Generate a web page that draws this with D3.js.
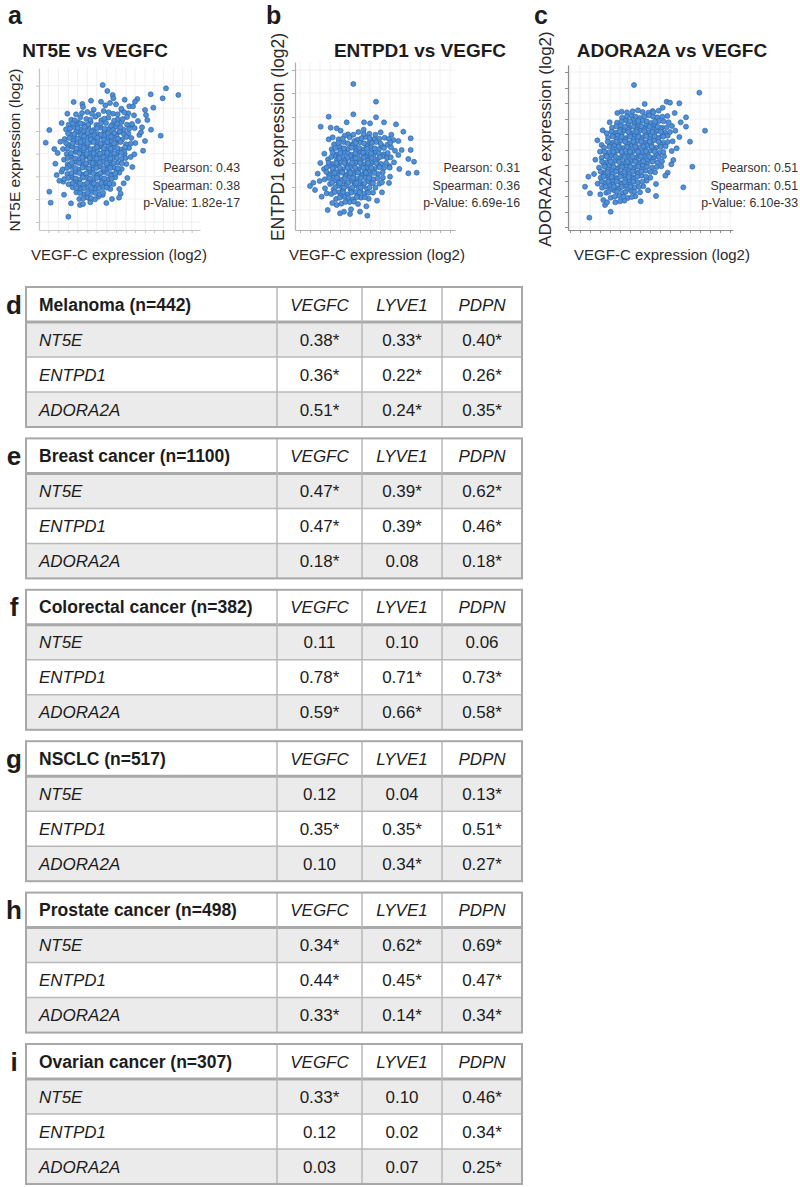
<!DOCTYPE html>
<html>
<head>
<meta charset="utf-8">
<script src="https://cdn.jsdelivr.net/npm/d3@7"></script>
<style>
  body { margin: 0; background: #fff; }
  svg text { font-family: "Liberation Sans", Arial, Helvetica, sans-serif; fill: #1c1c1c; }
</style>
</head>
<body>
<svg id="fig" width="800" height="1187"></svg>
<script>
// ---------- Scatter data (log2 expression) ----------
const panelLetters = ["a", "b", "c"];
const scatterTitles = ["NT5E vs VEGFC", "ENTPD1 vs VEGFC", "ADORA2A vs VEGFC"];
const yLabels = ["NT5E expression (log2)", "ENTPD1 expression (log2)", "ADORA2A expression (log2)"];
const xLabel = "VEGF-C expression (log2)";
const pearson = ["0.43", "0.31", "0.51"];
const spearman = ["0.38", "0.36", "0.51"];
const pValues = ["1.82e-17", "6.69e-16", "6.10e-33"];

// isolated points, [VEGFC, gene]
const outliersA = [[21.8,45],[23.2,43.2],[24.8,42],[25,41],[40.8,44],[44.5,42],[39.8,41],[36.2,42.2],[32.2,40.8],
  [31.5,40],[37,38.2],[34.5,37.5],[34.8,36],[35.2,34.5],[39.2,29.8],[32.8,30],[5.8,31.5],[4.7,27.7],[15.7,39.3],
  [21.3,40],[24,39.6],[25.8,39.2],[5.8,13],[6.2,9.7],[11.5,5.5],[26.8,13.8],[27.2,12.4],[21.8,12],[20.5,11.5],
  [17.8,11],[15,9],[10,16],[8,18],[9.5,19],[30.5,33],[29.5,36.5],[27.5,37.5]];
const outliersB = [[19,45.3],[25.8,40],[19,36.2],[25.8,35.3],[11.6,35.5],[9.2,32.5],[12.2,32.2],[14,32],[17,33.8],
  [22.2,33.8],[24,33.5],[28.2,33.8],[31.8,33.2],[11.6,28.7],[34,31],[36.2,29],[33.5,25.5],[36.2,25.5],[35.5,22.8],
  [37.2,22],[35.5,18.5],[38,18.7],[6,14.7],[7,15.7],[7.5,13.5],[10.5,14],[11,12.5],[11.3,7.5],[15,6.5],[16.2,7],
  [18,6.3],[18.3,7.7],[21,7],[23.2,5.8],[14,9],[30,17.5],[29.8,20.7],[32.5,24]];
const outliersC = [[22.2,45],[41.8,42.7],[32,40],[33,39.7],[35.8,39.5],[18.5,37],[27.8,37.2],[37.8,35.3],[37.8,32.5],
  [43.5,31.3],[39,28],[39.7,20.5],[37,14.3],[28.8,11.7],[8.5,17.5],[7.5,14.5],[9,12.5],[8.8,5.2],[15.2,7],[13,10.5],
  [13.5,9],[12,25],[12.5,27],[14,30.5],[32.3,18.7],[34,22.5],[35,26]];

// main cloud of each panel, [VEGFC, gene]
const cloudA = [
  [15.9,38.4],[19.1,37.6],[22.6,38.9],[27.4,37.9],[29.8,38.6],
  [13.8,36.2],[17.2,36.9],[20.5,36.1],[22.1,37.2],[24.9,36.4],[28.3,36.8],[31.2,35.9],
  [12.4,34.6],[15.1,35.3],[16.9,34.8],[19.6,35.5],[21.4,34.4],[23.5,35.2],[26.3,34.7],[29.1,35.4],
  [11.6,33.1],[14.3,33.8],[16,33.2],[18.2,33.9],[19.9,33],[22.8,33.6],[24.7,33.1],[27.5,33.9],[30.6,33.3],[32.4,34.2],
  [10.8,31.7],[13.1,32.4],[15.2,31.6],[17.5,32.3],[19.1,31.5],[21.2,32.2],[23.6,31.8],[25.8,32.5],[28.1,31.6],[31.4,32.1],
  [12.2,30.2],[14.4,30.9],[16.3,30.1],[18.4,30.8],[20.3,30.3],[22.2,30.7],[24.4,30.1],[26.9,30.9],[29.5,30.4],[33.3,30.8],
  [10.4,28.8],[13.3,29.4],[15.3,28.6],[17.1,29.3],[19.3,28.7],[21.1,29.5],[23.2,28.9],[25.3,29.2],[27.6,28.6],[30.4,29.1],
  [11.4,27.1],[14.2,27.8],[16.2,27.2],[18.2,27.9],[20.1,27.1],[22.3,27.7],[24.1,27.3],[26.1,27.8],[28.8,27.2],[31.6,27.6],
  [9.9,25.8],[12.7,26.4],[15,25.6],[17.1,26.2],[19.2,25.9],[21,26.5],[23.1,25.7],[25.2,26.3],[27.3,25.6],[29.7,26.1],
  [11,24.3],[13.6,24.9],[15.9,24.1],[18,24.7],[20,24.2],[22,24.8],[24.2,24.2],[26.4,24.9],[28.4,24.3],
  [10.2,22.6],[12.4,23.4],[14.7,22.8],[16.8,23.5],[18.9,22.7],[21,23.2],[23,22.6],[25.1,23.3],[27.6,22.9],[30.2,23.4],
  [11.3,21.2],[13.6,21.9],[15.8,21.1],[17.8,21.8],[19.8,21.3],[22,21.9],[24,21.2],[26.3,21.7],[28.9,21.3],
  [9.8,19.7],[12.5,20.4],[14.6,19.6],[16.7,20.3],[18.8,19.8],[20.9,20.5],[23,19.7],[25.2,20.2],[27.5,19.8],
  [11.2,18.3],[13.7,18.9],[15.8,18.1],[17.9,18.8],[20,18.2],[22.1,18.9],[24.4,18.3],[26.8,18.7],
  [10.3,16.8],[12.6,17.3],[14.8,16.6],[16.9,17.4],[19.1,16.8],[21.2,17.2],[23.4,16.6],[25.6,17.3],
  [11.6,15.2],[13.9,15.9],[16,15.1],[18.2,15.8],[20.3,15.2],[22.6,15.7],[25,15.3],
  [12.8,14.3],[15.1,13.6],[17.3,14.2],[19.5,13.7],[21.9,14.4],[24.1,13.8],
  [13.9,12.8],[16.2,12.2],[18.4,12.9],[20.8,12.3],
  [14.8,10.8],[17.2,11.3],[19.5,10.7],
  [15.9,9.3],[18.1,9.8],
  [14.2,32.9],[16.8,32.6],[20.6,32.8],[24.3,32.7],
  [13.9,31.1],[16.2,31.3],[18.4,31.1],[22.5,31.2],[26.9,31.2],
  [15.3,29.9],[18.2,29.6],[22.3,29.9],[25.9,29.8],
  [13,28.2],[16,28.2],[20.2,28.3],[24.4,28.1],[26.7,28.4],
  [12.7,26.8],[15.2,26.7],[17.2,27],[21.3,26.9],[23.5,26.6],
  [14,25.2],[16.1,25.4],[20.2,25.1],[24.3,25.3],[28.3,25.2],
  [12,23.7],[16.9,23.9],[19,23.8],[22.9,23.9],[26,23.8],
  [13.7,22.2],[15.8,22.4],[20.1,22.3],[24.1,22.4],
  [11.8,20.8],[16,20.9],[18.9,21],[21,20.7],[23.2,20.9],
  [13.6,19.3],[17.8,19.4],[22.1,19.5],[26,19.3],
  [12.4,17.9],[15.9,17.9],[20.2,17.8],[24.2,17.8],
  [13.5,16.3],[17.6,16.2],[21.7,16.3],
  [14.6,14.8],[18.9,14.9],[23.2,14.8],
  [8.3,24.6],[7.6,21.4],[9.1,28],[8.8,16.3],[34.5,28.2],[33.9,25.3],[31.3,24.2],[30.7,20.4],[29.2,17.1],
  [28.1,15.5],[26.7,11.2],[24.6,10.8],[22.9,9.6],[12.3,9.5],[10.2,12.1],[13.1,39.9],[18.3,40.3],[28.4,40.6],
  [30.9,38.6],[33.6,32.3],[36.3,31.6],[9.5,33.6],[11.2,36.4],[7.3,25.8]
];
const denseA = [
  [15.6,36.6],[18.6,36.4],[23.6,36.8],[26.3,36.2],
  [13.4,34.4],[18.1,34.6],[22.3,34.9],[25.2,34.3],[27.8,34.8],
  [12.9,33.4],[15.1,33.5],[17.4,33.1],[21.3,33.5],[26.2,33.4],[29.1,33.1],
  [12,31.9],[14.3,32.1],[16.4,32.4],[20.1,32],[22.4,31.9],[24.9,31.5],[27.1,32.3],[29.7,31.8],
  [11.4,30.5],[13.3,30.3],[17.3,30.6],[19.3,29.9],[21.2,30.1],[23.4,30.5],[25.3,30.6],[28.2,30.2],
  [11.8,29.1],[14.3,28.9],[16.2,29.6],[18.2,28.7],[20.2,29.2],[22.2,28.6],[24.3,29.5],[26.4,28.9],[28.9,29.4],
  [10.8,27.6],[12.8,27.5],[15.2,27.9],[17.2,27.6],[19.1,27.9],[21.2,27.5],[23.2,27.9],[25.2,27.5],[27.2,27.9],[30.2,27.4],
  [11.2,25.9],[13.9,26],[16.1,26.1],[18.1,25.8],[20.1,26.4],[22.1,26],[24.2,25.9],[26.2,26.1],[28.5,26.3],
  [12.3,24.6],[14.8,24.5],[17,24.3],[19.1,24.5],[21,24.4],[23.2,24.6],[25.3,24.5],[27.4,24.6],
  [11.3,23.1],[13.5,23],[15.7,23.2],[17.9,23.1],[20,22.9],[22,23.3],[24.1,23],[26.1,23.1],[28.7,23.1],
  [12.5,21.7],[14.7,21.6],[16.8,21.5],[18.8,21.6],[20.9,21.7],[23,21.5],[25.1,21.6],[27.5,21.5],
  [11.1,20.1],[13.6,20.1],[15.7,20.2],[17.7,20],[19.9,20.1],[22,20],[24.1,20.1],[26.4,20],
  [12.4,18.6],[14.8,18.6],[16.9,18.5],[19,18.5],[21.1,18.6],[23.3,18.5],[25.6,18.4],
  [11.5,17.1],[13.7,17],[15.9,17.2],[18,17],[20.1,17.1],[22.3,17],[24.5,16.9],
  [12.8,15.6],[15,15.5],[17.1,15.6],[19.2,15.5],[21.4,15.6],[23.8,15.4],
  [13.9,14.1],[16.2,14],[18.4,14.1],[20.7,14],[23,14.2],
  [15,12.6],[17.3,12.6],[19.6,12.6],[21.9,12.7],
  [16,11],[18.3,11.1]
];
const cloudB = [
  [17.4,30.2],[20.5,30.9],[23.8,30.4],[27.2,30.8],
  [14.6,28.7],[17.9,29.3],[20.2,28.6],[22.6,29.4],[25.3,28.8],[28.4,29.2],[31,28.5],
  [13.2,27.2],[16.1,27.9],[18.6,27.1],[21.1,27.8],[23.3,27.3],[25.9,27.9],[29.2,27.1],
  [12.5,25.7],[15,26.4],[17.4,25.8],[19.7,26.3],[21.9,25.6],[24.2,26.2],[26.7,25.8],[30.3,26.3],
  [13.8,24.2],[16.2,24.8],[18.5,24.1],[20.8,24.9],[23.1,24.3],[25.4,24.7],[28.1,24.2],
  [11.4,22.7],[14.5,23.3],[16.8,22.6],[19.2,23.2],[21.5,22.8],[23.9,23.4],[26.2,22.7],[29.1,23.1],
  [12.6,21.3],[15.3,21.9],[17.6,21.1],[19.9,21.8],[22.3,21.2],[24.7,21.7],[27.3,21.3],[31.2,21.8],
  [10.2,19.8],[13.2,20.3],[15.8,19.6],[18.2,20.4],[20.6,19.7],[23,20.2],[25.4,19.8],[28.2,20.1],
  [11.7,18.3],[14.3,18.9],[16.8,18.1],[19.1,18.8],[21.5,18.2],[23.8,18.9],[26.4,18.3],
  [10.4,16.7],[13,17.3],[15.4,16.6],[17.8,17.4],[20.2,16.8],[22.6,17.3],[25.1,16.7],[27.9,17.2],
  [12,15.3],[14.5,15.9],[16.9,15.2],[19.3,15.8],[21.7,15.2],[24.2,15.7],[26.8,15.4],
  [13.1,13.7],[15.6,14.3],[18.1,13.8],[20.5,14.4],[23.1,13.9],[25.6,14.2],
  [12.4,12.3],[14.8,12.8],[17.2,12.2],[19.7,12.9],[22.3,12.4],[24.9,12.7],
  [13.8,10.8],[16.3,11.4],[18.8,10.7],[21.3,11.2],[23.6,10.9],
  [15.4,9.4],[17.9,9.9],[20.4,9.3],
  [16.4,29.8],[19.3,28.2],[24,28.4],
  [14.7,26.6],[18.8,26.9],[22.9,26.8],[27.6,26.7],
  [15.1,25.3],[17.4,24.4],[19.8,25.2],[22,24.4],[24.4,25.3],
  [13.3,23.8],[15.8,23.6],[18.1,23.7],[20.3,23.9],[22.7,23.5],[25,23.9],[27.7,23.6],
  [14,22.3],[16.4,22.2],[18.7,22.4],[21,22.2],[23.3,22.3],[25.7,22.1],
  [11.8,20.8],[14.4,20.9],[16.9,20.8],[19.2,20.9],[21.6,20.7],[24,20.9],[26.6,20.7],
  [12.9,19.2],[15.3,19.3],[17.8,19.1],[20.1,19.3],[22.5,19.2],[24.9,19.3],
  [11.8,17.7],[14.2,17.8],[16.6,17.6],[19,17.9],[21.4,17.6],[23.9,17.8],
  [13.3,16.3],[15.8,16.1],[18.3,16.3],[20.8,16.2],[23.3,16.2],
  [14.4,14.8],[16.9,14.8],[19.4,14.9],[21.9,14.7],
  [15.9,13.3],[18.5,13.4],[21.1,13.3],
  [15.2,11.9],[20.2,11.8],
  [8.3,18.4],[9.1,21.6],[10.3,24.4],[12.8,29.3],[15.2,31.3],[22.1,31.6],[30.4,30.1],[32.5,28.2],[31.5,25.3],
  [32.8,19.8],[29.7,15.6],[27.6,12.8],[26.1,10.3],[22.9,8.6],[12.7,9.6],[9.5,11.5],[8.9,16.2]
];
const denseB = [
  [19,30.1],[22.1,30.3],[25.6,30.1],
  [15.8,28.9],[21.4,29],[23.9,29.1],[26.8,28.9],[29.7,28.8],
  [14.5,27.6],[17.3,27.5],[19.8,27.6],[22.2,27.5],[24.6,27.6],[27.2,27.4],[30.1,27.7],
  [13.7,26.1],[16.2,26],[18.5,26.2],[20.8,26.1],[23.1,25.9],[25.4,26],[28.2,26.1],
  [12.8,24.7],[15.1,24.6],[19.6,24.5],[21.9,24.7],[24.3,24.5],[26.7,24.4],[29.3,24.6],
  [12.4,23.4],[14.8,23.1],[17.3,23.2],[19.7,23.1],[22.1,23.2],[24.5,23.1],[27,23.4],[30.2,23.3],
  [11.6,21.7],[13.9,21.6],[16.3,21.6],[18.6,21.7],[21,21.6],[23.4,21.6],[25.9,21.5],[28.8,21.6],
  [11,20.3],[12.8,20],[15,20.2],[17.3,20.1],[19.6,20.2],[22,20.1],[24.4,20.1],[26.9,20.3],[29.9,20.2],
  [10.9,18.9],[13.4,18.6],[15.7,18.7],[18.1,18.6],[20.4,18.7],[22.8,18.6],[25.3,18.6],[27.8,18.8],
  [11.7,17.1],[14.1,17.2],[16.5,17],[18.9,17.1],[21.3,17.1],[23.7,17.1],[26.3,17],
  [12.6,15.7],[15,15.6],[17.5,15.7],[19.9,15.6],[22.4,15.6],[24.9,15.5],[27.6,15.8],
  [13.6,14.3],[16.2,14.2],[18.7,14.3],[21.2,14.2],[23.8,14.2],
  [13.4,12.9],[15.9,12.8],[18.4,12.7],[20.9,12.8],[23.5,12.7],
  [14.9,11.2],[17.5,11.2],[20,11.3],[22.5,11.3],
  [16.6,9.9],[19.2,10]
];
const cloudC = [
  [20.1,36.8],[23.4,37.4],[26.5,36.7],[29.6,37.3],
  [18.6,35.2],[21.5,35.8],[24,35.1],[26.7,35.9],[29.2,35.3],[32.2,35.7],
  [17.1,33.7],[19.8,34.4],[22.3,33.8],[24.8,34.3],[27.3,33.6],[29.7,34.2],[32.6,33.8],
  [15.6,32.2],[18.3,32.8],[20.8,32.1],[23.2,32.9],[25.6,32.3],[28.1,32.8],[30.6,32.2],[33.6,32.7],
  [16.7,30.7],[19.2,31.3],[21.7,30.6],[24.1,31.4],[26.5,30.8],[28.9,31.2],[31.5,30.7],[34.6,31.3],
  [14.4,29.2],[17.2,29.8],[19.8,29.1],[22.3,29.7],[24.7,29.3],[27.1,29.9],[29.6,29.2],[32.3,29.8],
  [15.6,27.7],[18.3,28.3],[20.8,27.6],[23.2,28.2],[25.7,27.8],[28.2,28.4],[30.9,27.7],[33.8,28.1],
  [13.2,26.2],[16.4,26.8],[18.9,26.1],[21.4,26.7],[23.8,26.3],[26.3,26.9],[28.8,26.2],[31.7,26.6],
  [14.6,24.7],[17.3,25.3],[19.8,24.6],[22.2,25.2],[24.6,24.8],[27.1,25.3],[29.8,24.7],
  [12.5,23.2],[15.5,23.8],[18.1,23.1],[20.6,23.7],[23,23.3],[25.5,23.9],[28.1,23.2],[31.2,23.6],
  [13.8,21.7],[16.5,22.3],[19,21.6],[21.4,22.2],[23.8,21.8],[26.3,22.4],[29.2,21.8],
  [11.7,20.2],[14.8,20.8],[17.4,20.1],[19.9,20.7],[22.3,20.3],[24.8,20.9],[27.6,20.2],[30.4,20.6],
  [12.9,18.7],[15.6,19.3],[18.1,18.6],[20.6,19.2],[23.1,18.8],[25.7,19.3],[28.5,18.8],
  [12.2,17.2],[14.4,17.8],[16.9,17.1],[19.4,17.7],[21.9,17.3],[24.5,17.8],[27.1,17.2],
  [13.3,15.7],[15.7,16.3],[18.2,15.6],[20.7,16.2],[23.3,15.8],[26,16.3],
  [12.6,14.2],[14.9,14.8],[17.3,14.1],[19.8,14.7],[22.4,14.3],[25,14.6],
  [13.9,12.7],[16.4,13.3],[18.9,12.6],[21.5,13.1],[24,12.8],
  [15.2,11.2],[17.8,11.7],[20.3,11.1],[22.6,11.6],
  [16.6,9.8],[19.3,10.3],
  [21.9,34.6],[26,33.2],[20.5,33.5],[23.7,33.4],[28.6,33.3],
  [18.1,31.6],[20.4,31.7],[22.9,31.6],[25.3,31.8],[27.7,31.7],[30.2,31.8],
  [15.9,30.3],[18.5,30.3],[21,30.2],[23.4,30.4],[25.8,30.2],[28.3,30.4],[30.8,30.1],
  [16.9,28.8],[19.5,28.7],[21.9,28.9],[24.4,28.7],[26.9,28.8],[29.5,28.8],
  [14.9,27.3],[17.6,27.2],[20.1,27.4],[22.5,27.2],[24.9,27.4],[27.4,27.2],[30.1,27.3],
  [15.8,25.8],[18.2,25.7],[20.6,25.9],[23,25.7],[25.5,25.8],[28.1,25.7],
  [13.8,24.2],[16.2,24.3],[18.8,24.1],[21.2,24.3],[23.7,24.2],[26.2,24.3],[28.9,24.2],
  [14.9,22.7],[17.4,22.8],[20,22.7],[22.4,22.8],[24.9,22.6],[27.5,22.8],
  [13.2,21.2],[15.8,21.3],[18.4,21.2],[20.9,21.3],[23.4,21.2],[26.1,21.3],
  [14.3,19.7],[16.9,19.8],[19.4,19.7],[21.9,19.8],[24.5,19.7],
  [13.5,18.2],[15.8,18.3],[18.3,18.2],[20.8,18.3],[23.3,18.2],
  [14.6,16.7],[17.1,16.8],[19.6,16.7],[22.1,16.8],
  [16.1,15.2],[18.6,15.3],[21.1,15.2],
  [15.2,13.7],[17.7,13.8],[20.2,13.7],
  [11.2,28.4],[10.6,22.6],[10.2,18.3],[11.3,15.4],[12.1,12.2],[14.1,9.8],[24.2,10.1],[26.4,13.4],[28.8,15.3],
  [31.6,17.8],[33.4,21.2],[33.5,25.2],[35.8,29.4],[36.2,33.8],[34.4,36.6],[30.8,38.2],[25.4,39.3],[17.2,36.6],
  [14.9,33.8],[12.8,31.4]
];
const denseC = [
  [21.8,37.1],[24.8,36.9],[28,36.8],
  [20.1,35.6],[22.7,35.5],[25.3,35.6],[27.9,35.5],[30.7,35.5],
  [18.5,34.1],[21,34.1],[23.5,34.2],[26,34.1],[28.5,34],[31.1,34.1],
  [16.9,32.6],[19.5,32.5],[22,32.5],[24.4,32.6],[26.9,32.5],[29.3,32.5],[32,32.3],
  [15.4,31],[17.9,31.1],[20.5,30.9],[22.9,31],[25.3,31.1],[27.7,30.9],[30.2,31],[33,30.9],
  [15.8,29.6],[18.5,29.5],[21,29.5],[23.5,29.5],[25.9,29.6],[28.4,29.6],[31,29.5],
  [14.3,28],[17,28],[19.5,28],[22,28],[24.4,28],[26.9,28],[29.6,28],[32.3,27.9],
  [14.8,26.5],[17.6,26.5],[20.1,26.4],[22.6,26.5],[25,26.6],[27.5,26.5],[30.2,26.4],
  [13.4,25],[16,25],[18.5,24.9],[21,25],[23.4,25],[25.8,25.1],[28.4,25],[31,24.9],
  [14,23.5],[16.8,23.5],[19.4,23.4],[21.8,23.5],[24.3,23.5],[26.8,23.5],[29.6,23.4],
  [12.6,22],[15.2,22],[17.7,21.9],[20.2,21.9],[22.6,22],[25,22.1],[27.7,22],[30.6,22.1],
  [13.4,20.5],[16.1,20.4],[18.6,20.4],[21.1,20.5],[23.5,20.5],[26.1,20.5],[29,20.4],
  [12.2,19],[14.3,18.9],[16.8,19],[19.3,18.9],[21.8,19],[24.4,19],[27.1,18.9],
  [13.1,17.5],[15.5,17.4],[18.1,17.5],[20.6,17.4],[23.2,17.5],[25.8,17.5],
  [12.5,16],[14.5,16],[17,16],[19.4,15.9],[22,16],[24.7,16],
  [13.7,14.5],[16.1,14.5],[18.5,14.4],[21.1,14.5],[23.7,14.4],
  [14.6,13],[17.1,13],[19.7,12.9],[22.3,13],
  [16.4,11.5],[19,11.5],[21.5,11.4],
  [18,10.1]
];

// axis tick positions (no labels are printed)
const xTicksA = [5.5, 8.5, 11.5, 14.3, 17.2, 20, 23, 25.8, 28.8, 31.5, 34.5, 37.2, 40, 43, 45.8, 48.5];
const yTicksA = [3.9, 10.8, 17.6, 24.4, 31.2, 38, 44.8];
const xTicksB = [3, 6, 9, 12, 15, 18, 21, 24, 27, 30, 33, 36, 39, 42, 45, 48];
const yTicksB = [7.5, 14.4, 21.6, 28.5, 35.4, 42.6, 49.5];
const xTicksC = [3, 6, 9, 12, 15, 18, 21, 24, 27, 30, 33, 36, 39, 42, 45, 48, 51];
const yTicksC = [2.4, 6.9, 11.7, 16.2, 21, 25.5, 30.3, 34.8, 39.6, 44.1, 48.9];

// ---------- Correlation tables ----------
const tableLetters = ["d", "e", "f", "g", "h", "i"];
const cancers = ["Melanoma (n=442)", "Breast cancer (n=1100)", "Colorectal cancer (n=382)",
  "NSCLC (n=517)", "Prostate cancer (n=498)", "Ovarian cancer (n=307)"];
const markers = ["VEGFC", "LYVE1", "PDPN"];
const genes = ["NT5E", "ENTPD1", "ADORA2A"];
// r per cancer: rows = genes, columns = markers; * = significant
const melanomaR   = [["0.38*", "0.33*", "0.40*"], ["0.36*", "0.22*", "0.26*"], ["0.51*", "0.24*", "0.35*"]];
const breastR     = [["0.47*", "0.39*", "0.62*"], ["0.47*", "0.39*", "0.46*"], ["0.18*", "0.08", "0.18*"]];
const colorectalR = [["0.11", "0.10", "0.06"], ["0.78*", "0.71*", "0.73*"], ["0.59*", "0.66*", "0.58*"]];
const nsclcR      = [["0.12", "0.04", "0.13*"], ["0.35*", "0.35*", "0.51*"], ["0.10", "0.34*", "0.27*"]];
const prostateR   = [["0.34*", "0.62*", "0.69*"], ["0.44*", "0.45*", "0.47*"], ["0.33*", "0.14*", "0.34*"]];
const ovarianR    = [["0.33*", "0.10", "0.46*"], ["0.12", "0.02", "0.34*"], ["0.03", "0.07", "0.25*"]];
const tableValues = [melanomaR, breastR, colorectalR, nsclcR, prostateR, ovarianR];

const svg = d3.select("#fig");

/**
 * Scatter panels
 */
const scatterLayout = [
  { left: 39, right: 200, top: 68, bottom: 230, xDomain: [2.7, 51], yDomain: [1.5, 50.1],
    letterX: 8, titleX: 95, yLabX: 20, yLabY: 150, statX: 240, xLabX: 119, axisColor: "#c4c4c4", labSize: 15.5 },
  { left: 295, right: 455, top: 62, bottom: 230, xDomain: [1.5, 49.5], yDomain: [1.5, 51.9],
    letterX: 266, titleX: 420, yLabX: 284, yLabY: 137, statX: 520, xLabX: 377, axisColor: "#b0b0b0", labSize: 17.5 },
  { left: 568, right: 733, top: 65, bottom: 230, xDomain: [2.4, 51.9], yDomain: [1.5, 51],
    letterX: 534, titleX: 672, yLabX: 551, yLabY: 139, statX: 798, xLabX: 662, axisColor: "#8c8c8c", labSize: 17 }
];
const scatterPoints = [
  outliersA.concat(cloudA, denseA),
  outliersB.concat(cloudB, denseB),
  outliersC.concat(cloudC, denseC)
];
const scatterXTicks = [xTicksA, xTicksB, xTicksC];
const scatterYTicks = [yTicksA, yTicksB, yTicksC];

scatterLayout.forEach((p, i) => {
  const g = svg.append("g");
  const x = d3.scaleLinear().domain(p.xDomain).range([p.left, p.right]);
  const y = d3.scaleLinear().domain(p.yDomain).range([p.bottom, p.top]);

  // faint grid
  g.selectAll(".vgrid").data(scatterXTicks[i]).join("line")
    .attr("x1", d => x(d)).attr("x2", d => x(d))
    .attr("y1", p.top).attr("y2", p.bottom)
    .attr("stroke", "#f0f0f0");
  g.selectAll(".hgrid").data(scatterYTicks[i]).join("line")
    .attr("x1", p.left).attr("x2", p.right)
    .attr("y1", d => y(d)).attr("y2", d => y(d))
    .attr("stroke", "#f0f0f0");

  const xAxis = g.append("g").attr("transform", `translate(0,${p.bottom})`)
    .call(d3.axisBottom(x).tickValues(scatterXTicks[i]).tickFormat("").tickSize(3).tickSizeOuter(0));
  const yAxis = g.append("g").attr("transform", `translate(${p.left},0)`)
    .call(d3.axisLeft(y).tickValues(scatterYTicks[i]).tickFormat("").tickSize(3).tickSizeOuter(0));
  [xAxis, yAxis].forEach(a => {
    a.select(".domain").attr("stroke", p.axisColor).attr("stroke-width", 1.2);
    a.selectAll(".tick line").attr("stroke", p.axisColor);
  });

  g.selectAll("circle").data(scatterPoints[i]).join("circle")
    .attr("cx", d => x(d[0]))
    .attr("cy", d => y(d[1]))
    .attr("r", 2.5)
    .attr("fill", "#4f90d8")
    .attr("stroke", "#2f66a8")
    .attr("stroke-width", 0.7);

  g.append("text").attr("x", p.letterX).attr("y", 24)
    .style("font-size", "25px").style("font-weight", "bold").text(panelLetters[i]);
  g.append("text").attr("x", p.titleX).attr("y", 57).attr("text-anchor", "middle")
    .style("font-size", "19px").style("font-weight", "bold").text(scatterTitles[i]);
  g.append("text")
    .attr("transform", `translate(${p.yLabX},${p.yLabY}) rotate(-90)`)
    .attr("text-anchor", "middle")
    .style("font-size", p.labSize + "px").style("fill", "#2a2a2a")
    .text(yLabels[i]);
  g.append("text").attr("x", p.xLabX).attr("y", 260).attr("text-anchor", "middle")
    .style("font-size", "15px").style("fill", "#2a2a2a").text(xLabel);

  const stats = [`Pearson: ${pearson[i]}`, `Spearman: ${spearman[i]}`, `p-Value: ${pValues[i]}`];
  g.selectAll(".stat").data(stats).join("text")
    .attr("x", p.statX).attr("y", (d, k) => 172 + k * 17.5)
    .attr("text-anchor", "end")
    .style("font-size", "12.3px").style("fill", "#333")
    .text(d => d);
});

/**
 * Tables
 */
const colX = [26, 277, 362, 442, 522];
const rowH = 35;
const tableTop0 = 287;
const tableStep = 151.4;

cancers.forEach((name, t) => {
  const top = tableTop0 + t * tableStep;
  const g = svg.append("g");
  const rowsY = d3.range(5).map(r => top + r * rowH);

  // row fills: header white, then grey / white / grey
  g.selectAll(".rowfill").data(genes).join("rect")
    .attr("x", colX[0]).attr("width", colX[4] - colX[0])
    .attr("y", (d, r) => rowsY[r + 1]).attr("height", rowH)
    .attr("fill", (d, r) => r % 2 === 0 ? "#ebebeb" : "#ffffff");

  // inner horizontal lines
  g.selectAll(".hline").data([2, 3]).join("line")
    .attr("x1", colX[0]).attr("x2", colX[4])
    .attr("y1", r => rowsY[r]).attr("y2", r => rowsY[r])
    .attr("stroke", "#b9b9b9").attr("stroke-width", 1.5);
  // header separator (heavier)
  g.append("line").attr("x1", colX[0]).attr("x2", colX[4])
    .attr("y1", rowsY[1]).attr("y2", rowsY[1])
    .attr("stroke", "#a9a9a9").attr("stroke-width", 3);
  // vertical lines
  g.selectAll(".vline").data([1, 2, 3]).join("line")
    .attr("x1", c => colX[c]).attr("x2", c => colX[c])
    .attr("y1", top).attr("y2", rowsY[4])
    .attr("stroke", "#b9b9b9").attr("stroke-width", 1.5);
  // outer border
  g.append("rect").attr("x", colX[0]).attr("y", top)
    .attr("width", colX[4] - colX[0]).attr("height", rowH * 4)
    .attr("fill", "none").attr("stroke", "#a8a8a8").attr("stroke-width", 2);

  const mid = r => rowsY[r] + rowH / 2 + 6;
  const colMid = c => (colX[c] + colX[c + 1]) / 2;

  g.append("text").attr("x", 14).attr("y", mid(0) + 3).attr("text-anchor", "middle")
    .style("font-size", "26px").style("font-weight", "bold").text(tableLetters[t]);
  g.append("text").attr("x", 39).attr("y", mid(0))
    .style("font-size", "17.5px").style("font-weight", "bold").text(name);
  g.selectAll(".mk").data(markers).join("text")
    .attr("x", (d, c) => colMid(c + 1)).attr("y", mid(0))
    .attr("text-anchor", "middle").style("font-size", "17px").style("font-style", "italic")
    .text(d => d);
  g.selectAll(".gn").data(genes).join("text")
    .attr("x", 39).attr("y", (d, r) => mid(r + 1))
    .style("font-size", "17px").style("font-style", "italic")
    .text(d => d);

  tableValues[t].forEach((row, r) => {
    g.selectAll(".v" + r).data(row).join("text")
      .attr("x", (d, c) => colMid(c + 1)).attr("y", mid(r + 1))
      .attr("text-anchor", "middle").style("font-size", "17px")
      .text(d => d);
  });
});
</script>
</body>
</html>
